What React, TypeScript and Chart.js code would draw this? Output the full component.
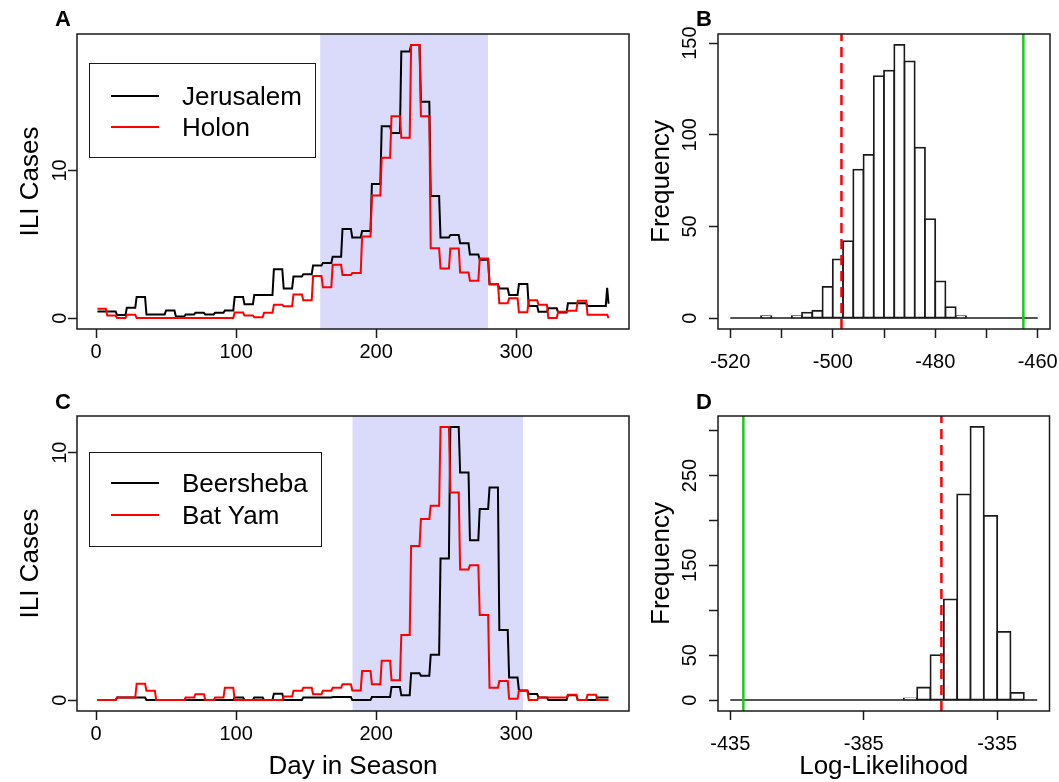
import React, { useEffect, useRef } from 'react';
import { Chart, registerables } from 'chart.js';

Chart.register(...registerables);

const FONT = "'Liberation Sans', Arial, Helvetica, sans-serif";
Chart.defaults.font.family = FONT;
Chart.defaults.color = '#000';

// ---------- Panels A and C: weekly ILI cases (each value held for 7 days, day 1 = season start)
const DAYS_PER_WEEK = 7;

const JERUSALEM = [
  0.45, 0.45, 0.2, 0.7, 1.43, 0.25, 0.25, 0.52, 0.11, 0.25,
  0.36, 0.25, 0.36, 0.52, 1.43, 0.93, 1.56, 1.56, 3.31, 2.0,
  2.82, 2.97, 3.56, 3.73, 4.16, 6.04, 5.46, 5.9, 9.08, 12.99,
  12.54, 18.05, 18.5, 14.65, 8.27, 5.46, 5.62, 5.06, 4.3, 3.95,
  2.29, 2.0, 1.56, 2.3, 0.82, 0.43, 0.66, 0.38, 1.0, 1.0,
  0.82, 0.82,
];
const JERUSALEM_TAIL = [2.05, 0.97];

const HOLON = [
  0.63, 0.18, 0.0, 0.22, 0, 0, 0, 0, 0, 0,
  0, 0, 0, 0, 0.38, 0.18, 0.05, 0.36, 0.9, 0.8,
  1.6, 1.2, 2.85, 2.08, 3.62, 2.92, 3.06, 5.53, 8.3, 10.86,
  13.67, 12.22, 18.5, 13.67, 4.73, 3.35, 4.72, 3.08, 2.52, 4.03,
  2.29, 1.0, 1.35, 0.4, 1.2, 0.9, 0, 0.43, 0.5, 1.18,
  0.22, 0.22,
];
const HOLON_TAIL = [0.22, 0.0];

const BEERSHEBA = [
  0, 0, 0.1, 0.1, 0.1, 0, 0, 0, 0, 0,
  0, 0, 0, 0, 0.1, 0, 0.1, 0, 0.26, 0,
  0, 0.1, 0.1, 0.1, 0.12, 0.12, 0, 0, 0.12, 0.12,
  0.53, 0.2, 1.08, 0.98, 1.83, 5.72, 11.04, 9.2, 6.46, 7.72,
  8.59, 2.83, 0.91, 0.39, 0.25, 0.1, 0, 0, 0.2, 0,
  0, 0.1,
];
const BEERSHEBA_TAIL = [0.1, 0.1];

const BAT_YAM = [
  0, 0, 0.1, 0.1, 0.66, 0.38, 0, 0, 0, 0.1,
  0.24, 0, 0.1, 0.5, 0, 0, 0, 0, 0, 0.14,
  0.38, 0.5, 0.24, 0.38, 0.5, 0.64, 0.39, 1.18, 0.64, 1.59,
  0.8, 2.63, 6.23, 7.32, 7.85, 11.04, 8.39, 5.28, 5.45, 3.44,
  0.5, 0.77, 0.05, 0.38, 0, 0.1, 0.1, 0.1, 0.22, 0,
  0.22, 0,
];
const BAT_YAM_TAIL = [0, 0];

const SHADE_A = [160, 280];
const SHADE_C = [183, 305];
const DAY_TICKS = [0, 100, 200, 300];
const CASE_TICKS = [0, 10];

const LEGEND_A = [
  { label: 'Jerusalem', color: '#000000' },
  { label: 'Holon', color: '#ff0000' },
];
const LEGEND_C = [
  { label: 'Beersheba', color: '#000000' },
  { label: 'Bat Yam', color: '#ff0000' },
];

// ---------- Panels B and D: histograms of simulated log-likelihoods
const B_BIN_START = -520;
const B_BIN_WIDTH = 2;
const B_COUNTS = [
  0, 0, 0, 1, 0, 0, 1, 3, 4, 17,
  32, 42, 81, 89, 132, 135, 149, 140, 93, 54,
  20, 6, 1, 0, 0, 0, 0, 0, 0, 0,
];
const B_NULL_LL = -498.3;
const B_OBS_LL = -462.8;
const B_XTICKS = [-520, -510, -500, -490, -480, -470, -460];
const B_XLABELS = [-520, -500, -480, -460];
const B_YTICKS = [0, 50, 100, 150];
const B_YLABELS = [0, 50, 100, 150];

const D_BIN_START = -435;
const D_BIN_WIDTH = 5;
const D_COUNTS = [
  0, 0, 0, 0, 0, 0, 0, 0, 0, 0,
  0, 0, 0, 2, 14, 50, 112, 229, 304, 205,
  76, 8, 0,
];
const D_NULL_LL = -355.9;
const D_OBS_LL = -430.1;
const D_XTICKS = [-435, -385, -335];
const D_XLABELS = [-435, -385, -335];
const D_YTICKS = [0, 50, 100, 150, 200, 250, 300];
const D_YLABELS = [0, 50, 150, 250];

// ---------- helpers
const SHADE_COLOR = 'rgb(218,218,250)';
const INK = '#1a1a1a';

const padRange = (lo: number, hi: number): [number, number] => {
  const d = (hi - lo) * 0.04;
  return [lo - d, hi + d];
};

function daily(weekly: number[], tail: number[]) {
  const pts: { x: number; y: number }[] = [];
  weekly.forEach((v, k) => {
    pts.push({ x: 1 + k * DAYS_PER_WEEK, y: v });
    pts.push({ x: (k + 1) * DAYS_PER_WEEK, y: v });
  });
  tail.forEach((v, i) => pts.push({ x: weekly.length * DAYS_PER_WEEK + 1 + i, y: v }));
  return pts;
}

function binPoints(start: number, width: number, counts: number[]) {
  return counts.map((c, i) => ({ x: start + width * (i + 0.5), y: c }));
}

const framePlugin = {
  id: 'frame',
  afterDatasetsDraw(chart: any) {
    const { ctx, chartArea: a } = chart;
    ctx.save();
    ctx.strokeStyle = INK;
    ctx.lineWidth = 1.5;
    ctx.strokeRect(a.left, a.top, a.right - a.left, a.bottom - a.top);
    ctx.restore();
  },
};

type AxisOpts = {
  min: number;
  max: number;
  ticks: number[];
  labels: number[];
  size: number;
  labelPad: number;
  title?: string;
  titlePad?: number;
};

const gridOpts = {
  display: true,
  drawOnChartArea: false,
  drawTicks: true,
  tickLength: 9,
  tickWidth: 1.5,
  tickColor: INK,
  offset: false,
};

function xAxis(o: AxisOpts) {
  return {
    type: 'linear',
    position: 'bottom',
    min: o.min,
    max: o.max,
    bounds: 'data',
    offset: false,
    afterBuildTicks: (s: any) => {
      s.ticks = o.ticks.map((v) => ({ value: v }));
    },
    afterFit: (s: any) => {
      s.height = o.size;
      s.paddingLeft = 0;
      s.paddingRight = 0;
    },
    ticks: {
      autoSkip: false,
      maxRotation: 0,
      minRotation: 0,
      padding: o.labelPad,
      color: '#000',
      font: { family: FONT, size: 20 },
      callback: (v: number) => (o.labels.includes(v) ? String(v) : ''),
    },
    grid: gridOpts,
    border: { display: false },
    title: o.title
      ? { display: true, text: o.title, color: '#000', font: { family: FONT, size: 26 }, padding: { top: 0, bottom: o.titlePad ?? 0 } }
      : { display: false },
  };
}

function yAxis(o: AxisOpts) {
  return {
    type: 'linear',
    position: 'left',
    min: o.min,
    max: o.max,
    bounds: 'data',
    afterBuildTicks: (s: any) => {
      s.ticks = o.ticks.map((v) => ({ value: v }));
    },
    afterFit: (s: any) => {
      s.width = o.size;
      s.paddingTop = 0;
      s.paddingBottom = 0;
    },
    ticks: {
      autoSkip: false,
      minRotation: 90,
      maxRotation: 90,
      crossAlign: 'center',
      padding: o.labelPad,
      color: '#000',
      font: { family: FONT, size: 20 },
      callback: (v: number) => (o.labels.includes(v) ? String(v) : ''),
    },
    grid: gridOpts,
    border: { display: false },
    title: o.title
      ? { display: true, text: o.title, color: '#000', font: { family: FONT, size: 26 }, padding: { top: o.titlePad ?? 0, bottom: 0 } }
      : { display: false },
  };
}

const BASE_OPTS = {
  responsive: false,
  animation: false,
  events: [],
  devicePixelRatio: 1,
  plugins: { legend: { display: false }, tooltip: { enabled: false } },
};

function seriesConfig(
  blackW: number[], blackT: number[], redW: number[], redT: number[], shade: number[],
  pad: { top: number; right: number }, xSize: number, xTitle?: string,
) {
  const lastDay = blackW.length * DAYS_PER_WEEK + blackT.length;
  const [x0, x1] = padRange(1, lastDay);
  const yMax = Math.max(...blackW, ...blackT, ...redW, ...redT);
  const [y0, y1] = padRange(0, yMax);
  return {
    type: 'line',
    data: {
      datasets: [
        {
          data: [{ x: shade[0], y: y1 }, { x: shade[1], y: y1 }],
          fill: 'start',
          backgroundColor: SHADE_COLOR,
          borderColor: 'rgba(0,0,0,0)',
          borderWidth: 0,
          pointRadius: 0,
          order: 3,
        },
        { data: daily(blackW, blackT), borderColor: '#000', borderWidth: 2, pointRadius: 0, fill: false, tension: 0, order: 2 },
        { data: daily(redW, redT), borderColor: '#ff0000', borderWidth: 2, pointRadius: 0, fill: false, tension: 0, order: 1 },
      ],
    },
    options: {
      ...BASE_OPTS,
      layout: { padding: { top: pad.top, right: pad.right, left: 0, bottom: 0 } },
      scales: {
        x: xAxis({ min: x0, max: x1, ticks: DAY_TICKS, labels: DAY_TICKS, size: xSize, labelPad: 2, title: xTitle }),
        y: yAxis({ min: y0, max: y1, ticks: CASE_TICKS, labels: CASE_TICKS, size: 77, labelPad: -4, title: 'ILI Cases', titlePad: 15 }),
      },
    },
    plugins: [framePlugin],
  };
}

function histConfig(
  start: number, width: number, counts: number[], nullLL: number, obsLL: number,
  xt: number[], xl: number[], yt: number[], yl: number[],
  pad: { top: number; right: number }, xSize: number, xTitle?: string,
) {
  const end = start + width * counts.length;
  const [x0, x1] = padRange(start, end);
  const [y0, y1] = padRange(0, Math.max(...counts));
  return {
    type: 'bar',
    data: {
      datasets: [
        {
          type: 'bar',
          data: binPoints(start, width, counts),
          backgroundColor: '#ffffff',
          borderColor: INK,
          borderWidth: 1.8,
          borderSkipped: false,
          barPercentage: 1,
          categoryPercentage: 1,
          inflateAmount: 0.9,
          order: 3,
        },
        {
          type: 'line',
          data: [{ x: start, y: 0 }, { x: end, y: 0 }],
          borderColor: INK,
          borderWidth: 1.6,
          pointRadius: 0,
          fill: false,
          order: 2,
        },
        {
          type: 'line',
          data: [{ x: nullLL, y: y0 }, { x: nullLL, y: y1 }],
          borderColor: '#ff0000',
          borderWidth: 2.5,
          borderDash: [10, 6],
          pointRadius: 0,
          fill: false,
          order: 1,
        },
        {
          type: 'line',
          data: [{ x: obsLL, y: y0 }, { x: obsLL, y: y1 }],
          borderColor: '#1ec81e',
          borderWidth: 2.5,
          pointRadius: 0,
          fill: false,
          order: 0,
        },
      ],
    },
    options: {
      ...BASE_OPTS,
      layout: { padding: { top: pad.top, right: pad.right, left: 0, bottom: 0 } },
      scales: {
        x: xAxis({ min: x0, max: x1, ticks: xt, labels: xl, size: xSize, labelPad: 12, title: xTitle }),
        y: yAxis({ min: y0, max: y1, ticks: yt, labels: yl, size: 83, labelPad: 2, title: 'Frequency', titlePad: 11 }),
      },
    },
    plugins: [framePlugin],
  };
}

function ChartCanvas({ build, left, top, width, height }: any) {
  const ref = useRef<HTMLCanvasElement>(null);
  useEffect(() => {
    const chart = new Chart(ref.current as HTMLCanvasElement, build() as any);
    return () => chart.destroy();
  }, [build]);
  return (
    <canvas
      ref={ref}
      width={width}
      height={height}
      style={{ position: 'absolute', left, top, width, height, display: 'block' }}
    />
  );
}

function Legend({ items, left, top, width, height, rowY }: any) {
  return (
    <div
      style={{
        position: 'absolute',
        left,
        top,
        width,
        height,
        border: `1.5px solid ${INK}`,
        boxSizing: 'border-box',
      }}
    >
      {items.map((e: any, i: number) => (
        <React.Fragment key={e.label}>
          <div
            style={{
              position: 'absolute',
              left: 21,
              top: rowY[i] - 1,
              width: 48,
              height: 2,
              background: e.color,
            }}
          />
          <div
            style={{
              position: 'absolute',
              left: 92,
              top: rowY[i] - 15,
              height: 30,
              lineHeight: '30px',
              fontSize: 26,
              fontFamily: FONT,
              color: '#000',
              whiteSpace: 'nowrap',
            }}
          >
            {e.label}
          </div>
        </React.Fragment>
      ))}
    </div>
  );
}

const letterStyle = (left: number, top: number): React.CSSProperties => ({
  position: 'absolute',
  left,
  top,
  fontFamily: FONT,
  fontWeight: 'bold',
  fontSize: 22,
  lineHeight: '24px',
  color: '#000',
});

const buildA = () =>
  seriesConfig(JERUSALEM, JERUSALEM_TAIL, HOLON, HOLON_TAIL, SHADE_A, { top: 34, right: 6 }, 62);
const buildC = () =>
  seriesConfig(BEERSHEBA, BEERSHEBA_TAIL, BAT_YAM, BAT_YAM_TAIL, SHADE_C, { top: 25, right: 6 }, 71, 'Day in Season');
const buildB = () =>
  histConfig(B_BIN_START, B_BIN_WIDTH, B_COUNTS, B_NULL_LL, B_OBS_LL, B_XTICKS, B_XLABELS, B_YTICKS, B_YLABELS,
    { top: 34, right: 9 }, 62);
const buildD = () =>
  histConfig(D_BIN_START, D_BIN_WIDTH, D_COUNTS, D_NULL_LL, D_OBS_LL, D_XTICKS, D_XLABELS, D_YTICKS, D_YLABELS,
    { top: 25, right: 9.5 }, 71, 'Log-Likelihood');

export default function App() {
  return (
    <div style={{ position: 'absolute', left: 0, top: 0, width: 1059, height: 782, background: '#fff', overflow: 'hidden' }}>
      <ChartCanvas build={buildA} left={0} top={0} width={635} height={391} />
      <ChartCanvas build={buildB} left={635} top={0} width={424} height={391} />
      <ChartCanvas build={buildC} left={0} top={391} width={635} height={391} />
      <ChartCanvas build={buildD} left={635} top={391} width={424} height={391} />
      <Legend items={LEGEND_A} left={89} top={63} width={227} height={95} rowY={[32, 62.5]} />
      <Legend items={LEGEND_C} left={89} top={452} width={233} height={95} rowY={[30, 61.5]} />
      <div style={letterStyle(55, 7)}>A</div>
      <div style={letterStyle(696, 7)}>B</div>
      <div style={letterStyle(55, 390)}>C</div>
      <div style={letterStyle(696, 390)}>D</div>
    </div>
  );
}
